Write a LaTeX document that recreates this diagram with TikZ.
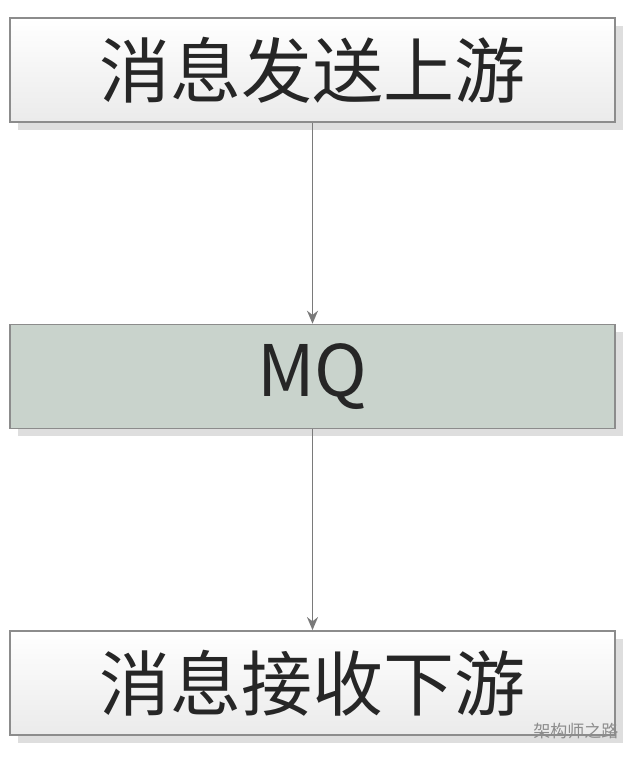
\documentclass[tikz,border=0pt]{standalone}
\usepackage{fontspec}
\setmainfont{Noto Sans CJK SC}
\usetikzlibrary{positioning}
\usetikzlibrary{shadows}
\usetikzlibrary{arrows.meta}
\definecolor{boxline}{HTML}{8C8C8C}
\definecolor{mqfill}{HTML}{C9D3CC}
\definecolor{arrowgray}{HTML}{7A7A7A}
\definecolor{txtdark}{HTML}{262626}

\begin{document}
\begin{tikzpicture}[x=1pt,y=1pt,node distance=201pt,
		stage/.style={draw=boxline,line width=1.4pt,rectangle,minimum width=605pt,minimum height=104pt,
			inner sep=0pt,text=txtdark,font=\fontsize{71}{74}\selectfont,
			drop shadow={shadow xshift=8pt,shadow yshift=-8pt,fill=black!13,opacity=1}},
		plain/.style={stage,top color=white,bottom color=black!8},
		queue/.style={stage,fill=mqfill},
		flow/.style={draw=arrowgray,line width=1.7pt,-{Stealth[length=13pt,width=11pt]}}]
		\useasboundingbox (0,0) rectangle (640,-758);
		\node (send) [plain] at (312.5,-70) {消息发送上游};
		\node (mq)   [queue,below=of send] {MQ};
		\node (recv) [plain,below=of mq]   {消息接收下游};
		\draw [flow] (send) -- (mq);
		\draw [flow] (mq) -- (recv);
		\node (mark) [text=black!45,font=\fontsize{17}{18}\selectfont,anchor=east] at (622,-731) {架构师之路};
	\end{tikzpicture}
\end{document}
